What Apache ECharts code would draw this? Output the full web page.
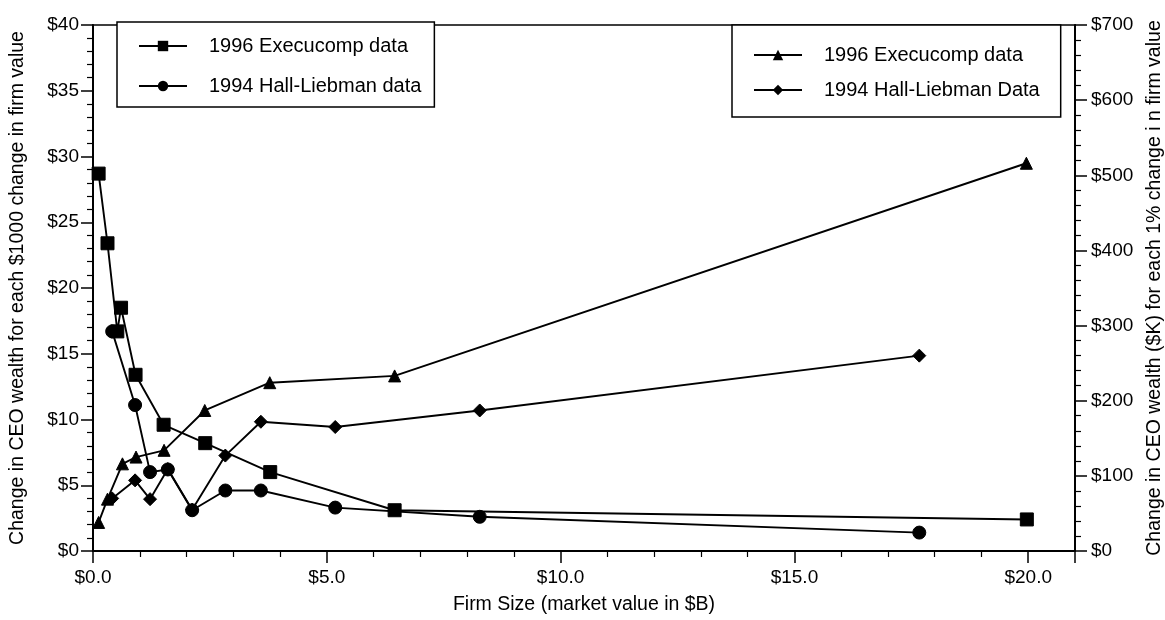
<!DOCTYPE html>
<html>
<head>
<meta charset="utf-8">
<script src="https://cdn.jsdelivr.net/npm/echarts@6/dist/echarts.min.js"></script>
<style>
  html, body { margin: 0; padding: 0; background: #fff; }
  #chart { width: 1165px; height: 620px; }
</style>
</head>
<body>
<div id="chart"></div>
<script>
// firm size (market value, $B) for each group
var execX = [0.12, 0.31, 0.52, 0.6, 0.91, 1.51, 2.4, 3.79, 6.45, 19.97];
var execTriX = [0.12, 0.31, 0.63, 0.92, 1.52, 2.39, 3.78, 6.45, 19.96];
var hallX = [0.41, 0.9, 1.22, 1.6, 2.12, 2.83, 3.59, 5.18, 8.27, 17.67];

// left axis: $ per $1000 change in firm value
var execPerThousand = [28.7, 23.4, 16.7, 18.5, 13.4, 9.6, 8.2, 6.0, 3.1, 2.4];
var hallPerThousand = [16.7, 11.1, 6.0, 6.2, 3.1, 4.6, 4.6, 3.3, 2.6, 1.4];

// right axis: $K per 1% change in firm value
var execPerPercent = [38, 69, 116, 125, 134, 187, 224, 233, 516];
var hallPerPercent = [70, 94, 69, 109, 55, 127, 172, 165, 187, 260];

var xTicks = ['$0.0', '$5.0', '$10.0', '$15.0', '$20.0'];

var names = {
  e1: '1996 Execucomp data',
  h1: '1994 Hall-Liebman data',
  e2: '1996 Execucomp data',
  h2: '1994 Hall-Liebman Data'
};

function pairs(xs, ys) {
  return ys.map(function (y, i) { return [xs[i], y]; });
}

var font = 'Liberation Sans, Arial, Helvetica, sans-serif';

function line(id, xs, ys, symbol, size, axis) {
  return {
    name: id,
    type: 'line',
    yAxisIndex: axis,
    data: pairs(xs, ys),
    symbol: symbol,
    symbolSize: size,
    showAllSymbol: true,
    animation: false,
    lineStyle: { color: '#000', width: 1.9 },
    itemStyle: { color: '#000', borderColor: '#000' }
  };
}

var myChart = echarts.init(document.getElementById('chart'), null, { renderer: 'canvas' });

var legendBase = {
  orient: 'vertical',
  selectedMode: false,
  itemWidth: 48,
  itemHeight: 13,
  backgroundColor: '#fff',
  borderColor: '#000',
  borderWidth: 1.5,
  borderRadius: 0,
  formatter: function (n) { return names[n]; },
  textStyle: { fontFamily: font, fontSize: 20, lineHeight: 20, color: '#000', padding: [0, 0, 0, 17] }
};

var axisLine = { show: true, lineStyle: { color: '#000', width: 2 } };
var tick = { show: true, length: 12, lineStyle: { color: '#000', width: 1.5 } };
var minor = { show: true, splitNumber: 5, length: 6, lineStyle: { color: '#000', width: 1.2 } };
var nameStyle = { fontSize: 19.5, color: '#000', fontFamily: font };

myChart.setOption({
  backgroundColor: '#fff',
  textStyle: { fontFamily: font },
  grid: {
    left: 93,
    right: 90,
    top: 25,
    bottom: 69,
    outerBoundsMode: 'none',
    show: true,
    borderColor: '#000',
    borderWidth: 1.5
  },
  legend: [
    Object.assign({}, legendBase, {
      left: 117,
      top: 22,
      itemGap: 20,
      padding: [14, 13, 11, 21],
      data: ['e1', 'h1']
    }),
    Object.assign({}, legendBase, {
      left: 732,
      top: 25,
      itemGap: 15,
      padding: [20, 21, 17, 21],
      data: ['e2', 'h2']
    })
  ],
  xAxis: {
    type: 'value',
    min: 0,
    max: 21,
    interval: 5,
    name: 'Firm Size (market value in $B)',
    nameLocation: 'middle',
    nameGap: 44,
    nameTextStyle: nameStyle,
    axisLine: axisLine,
    axisTick: tick,
    minorTick: minor,
    splitLine: { show: false },
    axisLabel: {
      fontSize: 19,
      color: '#000',
      margin: 17,
      showMaxLabel: false,
      formatter: function (v) { return xTicks[v / 5] || ''; }
    }
  },
  yAxis: [
    {
      type: 'value',
      position: 'left',
      min: 0,
      max: 40,
      interval: 5,
      name: 'Change in CEO wealth for each $1000 change in firm value',
      nameLocation: 'middle',
      nameGap: 65,
      nameTextStyle: nameStyle,
      axisLine: axisLine,
      axisTick: tick,
      minorTick: minor,
      splitLine: { show: false },
      axisLabel: {
        fontSize: 19,
        color: '#000',
        margin: 14,
        formatter: function (v) { return '$' + v; }
      }
    },
    {
      type: 'value',
      position: 'right',
      min: 0,
      max: 700,
      interval: 100,
      name: 'Change in CEO wealth ($K) for each 1% change i n firm value',
      nameLocation: 'middle',
      nameGap: 63,
      nameRotate: 90,
      nameTextStyle: nameStyle,
      axisLine: axisLine,
      axisTick: tick,
      minorTick: minor,
      splitLine: { show: false },
      axisLabel: {
        fontSize: 19,
        color: '#000',
        margin: 16,
        formatter: function (v) { return '$' + v; }
      }
    }
  ],
  series: [
    line('e1', execX, execPerThousand, 'rect', 13, 0),
    line('h1', hallX, hallPerThousand, 'circle', 13, 0),
    line('e2', execTriX, execPerPercent, 'triangle', 12, 1),
    line('h2', hallX, hallPerPercent, 'diamond', 13, 1)
  ]
});
</script>
</body>
</html>
